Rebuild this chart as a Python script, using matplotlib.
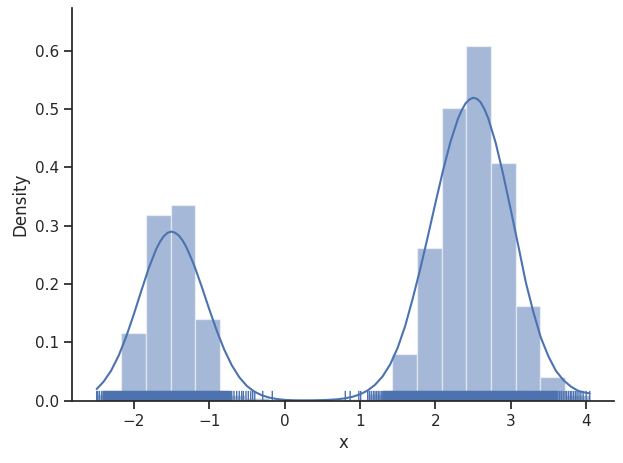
import matplotlib
matplotlib.use("Agg")
import numpy as np
import matplotlib.pyplot as plt
import seaborn as sns

# ---------------- data ----------------
bin_start = -2.491
bin_end = 4.047
n_bins = 20
hist_density = [0.012, 0.1166, 0.319, 0.336, 0.1406, 0.010, 0.004, 0.001, 0.0, 0.0,
                0.003, 0.012, 0.0806, 0.262, 0.502, 0.609, 0.408, 0.163, 0.041, 0.010]

kde_x = [-2.491, -2.4, -2.3, -2.2, -2.1, -2.0, -1.9, -1.8, -1.7, -1.65, -1.6, -1.55, -1.5,
         -1.45, -1.4, -1.35, -1.3,
         -1.2, -1.1, -1.0, -0.9, -0.8, -0.7, -0.6, -0.5, -0.4, -0.3, -0.2, -0.1, 0.0,
         0.1, 0.2, 0.3, 0.4, 0.5, 0.6, 0.7, 0.8, 0.9, 1.0, 1.1, 1.2, 1.3, 1.4, 1.5,
         1.6, 1.7, 1.8, 1.9, 2.0, 2.1, 2.2, 2.3, 2.35, 2.4, 2.45, 2.5, 2.55, 2.6, 2.65,
         2.7, 2.8, 2.9, 3.0,
         3.1, 3.2, 3.3, 3.4, 3.5, 3.6, 3.7, 3.8, 3.9, 4.0, 4.047]
kde_y = [0.0200, 0.0325, 0.0514, 0.0771, 0.1096, 0.1475, 0.1880, 0.2275, 0.2604, 0.2729,
         0.2822, 0.2880, 0.2900, 0.2880, 0.2830, 0.2745, 0.2630,
         0.2328, 0.1963, 0.1576, 0.1205, 0.0878, 0.0609, 0.0402,
         0.0253, 0.0155, 0.0092, 0.0052, 0.0028, 0.0014, 0.0008, 0.0006, 0.0006, 0.0007,
         0.0010, 0.0015, 0.0024, 0.0040, 0.0066, 0.0108, 0.0173, 0.0272, 0.0415, 0.0620,
         0.0905, 0.1280, 0.1750, 0.2260, 0.2812, 0.3383, 0.3937, 0.4436, 0.4835, 0.4982,
         0.5097, 0.5164, 0.5195, 0.5179, 0.5120, 0.5003, 0.4850, 0.4425, 0.3880, 0.3277,
         0.2660, 0.2030, 0.1520, 0.1080,
         0.0760, 0.0510, 0.0350, 0.0240, 0.0165, 0.0135, 0.0125]

# sparse rug ticks in the tails
rug_tails = [-2.491, -2.478, -2.455, -2.425, -2.405,
    -0.700, -0.670, -0.634, -0.600, -0.568, -0.546, -0.511, -0.480, -0.448, -0.422,
    -0.395, -0.289, -0.162,
    0.806, 0.870, 0.985, 1.010, 1.103, 1.125, 1.150, 1.178, 1.200, 1.222,
    1.245, 1.266, 1.290,
    3.625, 3.648, 3.670, 3.695, 3.720, 3.740, 3.765, 3.790, 3.810, 3.835, 3.860,
    3.880, 3.905, 3.930, 3.960, 4.000, 4.047]

# rug ticks in the two dense cores
rug_core = [
    -2.392, -2.378, -2.365, -2.351, -2.338, -2.322, -2.309, -2.296, -2.281, -2.268,
    -2.254, -2.241, -2.226, -2.213, -2.199, -2.186, -2.171, -2.158, -2.144, -2.131,
    -2.117, -2.103, -2.090, -2.076, -2.062, -2.049, -2.034, -2.021, -2.007, -1.994,
    -1.980, -1.966, -1.953, -1.939, -1.925, -1.912, -1.898, -1.884, -1.871, -1.857,
    -1.843, -1.830, -1.816, -1.802, -1.789, -1.775, -1.761, -1.748, -1.734, -1.720,
    -1.707, -1.693, -1.679, -1.666, -1.652, -1.638, -1.625, -1.611, -1.597, -1.584,
    -1.570, -1.556, -1.543, -1.529, -1.515, -1.502, -1.488, -1.474, -1.461, -1.447,
    -1.433, -1.420, -1.406, -1.392, -1.379, -1.365, -1.351, -1.338, -1.324, -1.310,
    -1.297, -1.283, -1.269, -1.256, -1.242, -1.228, -1.215, -1.201, -1.187, -1.174,
    -1.160, -1.146, -1.133, -1.119, -1.105, -1.092, -1.078, -1.064, -1.051, -1.037,
    -1.023, -1.010, -0.996, -0.982, -0.969, -0.955, -0.941, -0.928, -0.914, -0.900,
    -0.887, -0.873, -0.859, -0.846, -0.832, -0.818, -0.805, -0.791, -0.777, -0.764,
    -0.750, -0.736, -0.723,
    1.310, 1.324, 1.338, 1.352, 1.366, 1.380, 1.394, 1.408, 1.422, 1.436, 1.450,
    1.464, 1.478, 1.492, 1.506, 1.520, 1.534, 1.548, 1.562, 1.576, 1.590, 1.604,
    1.618, 1.632, 1.646, 1.660, 1.674, 1.688, 1.702, 1.716, 1.730, 1.744, 1.758,
    1.772, 1.786, 1.800, 1.814, 1.828, 1.842, 1.856, 1.870, 1.884, 1.898, 1.912,
    1.926, 1.940, 1.954, 1.968, 1.982, 1.996, 2.010, 2.024, 2.038, 2.052, 2.066,
    2.080, 2.094, 2.108, 2.122, 2.136, 2.150, 2.164, 2.178, 2.192, 2.206, 2.220,
    2.234, 2.248, 2.262, 2.276, 2.290, 2.304, 2.318, 2.332, 2.346, 2.360, 2.374,
    2.388, 2.402, 2.416, 2.430, 2.444, 2.458, 2.472, 2.486, 2.500, 2.514, 2.528,
    2.542, 2.556, 2.570, 2.584, 2.598, 2.612, 2.626, 2.640, 2.654, 2.668, 2.682,
    2.696, 2.710, 2.724, 2.738, 2.752, 2.766, 2.780, 2.794, 2.808, 2.822, 2.836,
    2.850, 2.864, 2.878, 2.892, 2.906, 2.920, 2.934, 2.948, 2.962, 2.976, 2.990,
    3.004, 3.018, 3.032, 3.046, 3.060, 3.074, 3.088, 3.102, 3.116, 3.130, 3.144,
    3.158, 3.172, 3.186, 3.200, 3.214, 3.228, 3.242, 3.256, 3.270, 3.284, 3.298,
    3.312, 3.326, 3.340, 3.354, 3.368, 3.382, 3.396, 3.410, 3.424, 3.438, 3.452,
    3.466, 3.480, 3.494, 3.508, 3.522, 3.536, 3.550, 3.564, 3.578, 3.592, 3.606]

x_label = "x"
y_label = "Density"

# ---------------- drawing ----------------
sns.set_theme(style="ticks")
blue = "#4c72b0"

fig = plt.figure(figsize=(6.23, 4.63), dpi=100)
ax = fig.add_axes([0.1156, 0.1346, 0.8705, 0.8475])

edges = np.linspace(bin_start, bin_end, n_bins + 1)
ax.bar(edges[:-1], hist_density, width=np.diff(edges), align="edge",
       color=blue, alpha=0.5, edgecolor="white", linewidth=1)

ax.plot(kde_x, kde_y, color=blue, linewidth=1.5)

xt = ax.get_xaxis_transform()
core_lines = ax.vlines(rug_core, 0, 0.025, transform=xt, color=blue, linewidth=1.6)
core_lines.set_snap(False)
tail_lines = ax.vlines(rug_tails, 0, 0.025, transform=xt, color=blue, linewidth=1.0)
tail_lines.set_snap(False)

ax.set_xlim(-2.818, 4.374)
ax.set_ylim(0, 0.673)
ax.set_xlabel(x_label)
ax.set_ylabel(y_label)
sns.despine(ax=ax)

fig.savefig("out.png", dpi=100)
